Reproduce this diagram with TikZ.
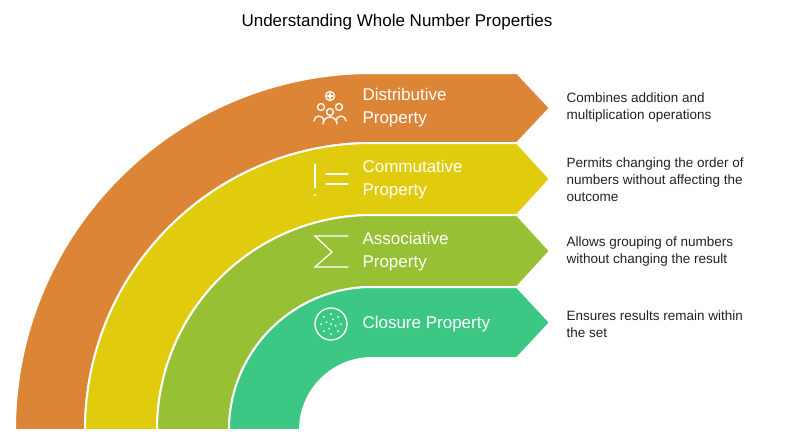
\documentclass[tikz,border=0pt]{standalone}
\usepackage{fontspec}
\setmainfont{Liberation Sans}
\definecolor{distcol}{HTML}{DD8536}
\definecolor{commcol}{HTML}{E0CB0C}
\definecolor{assocol}{HTML}{97C034}
\definecolor{closcol}{HTML}{3CC784}
\definecolor{desccol}{HTML}{222222}
\tikzset{
  band/.style={draw=white, line width=2pt, line join=round},
  label/.style={text=white, anchor=west, align=left, font=\fontsize{17}{23}\selectfont},
  desc/.style={text=desccol, anchor=west, align=left, font=\fontsize{13.5}{17}\selectfont},
  icon/.style={draw=white, line width=1.3pt, line cap=round}
}
% band: #1 colour, #2 outer radius, #3 inner radius
\newcommand{\band}[3]{%
  \fill[#1, band] (372-#2,430) arc[start angle=180, end angle=270, radius=#2]
    -- (517,430-#2) -- (550,430-#2/2-#3/2) -- (517,430-#3) -- (372,430-#3)
    arc[start angle=270, end angle=180, radius=#3] -- cycle;}
\begin{document}
\begin{tikzpicture}[x=1pt, y=-1pt]
  \useasboundingbox (0,0) rectangle (794,445);
  \node[font=\fontsize{17}{20}\selectfont] (title) at (397,22) {Understanding Whole Number Properties};
  % bands, outer to inner
  \band{distcol}{357}{287}
  \band{commcol}{287}{215}
  \band{assocol}{215}{143}
  \band{closcol}{143}{72}
  % labels
  \node[label] (dist) at (359,108) {Distributive\\Property};
  \node[label] (comm) at (359,180) {Commutative\\Property};
  \node[label] (asso) at (359,252) {Associative\\Property};
  \node[label] (clos) at (359,324) {Closure Property};
  % descriptions
  \node[desc] (distd) at (563,108) {Combines addition and\\multiplication operations};
  \node[desc] (commd) at (563,180) {Permits changing the order of\\numbers without affecting the\\outcome};
  \node[desc] (assod) at (563,252) {Allows grouping of numbers\\without changing the result};
  \node[desc] (closd) at (563,324) {Ensures results remain within\\the set};
  % icons
  \begin{scope}[icon]
    \draw (330,96) circle (4.5); \draw (327.5,96) -- (332.5,96); \draw (330,93.5) -- (330,98.5);
    \draw (321,107) circle (3.5); \draw (339,107) circle (3.5); \draw (330,112) circle (3.5);
    \draw (314,121) arc[start angle=180, end angle=360, radius=5];
    \draw (323,124) arc[start angle=180, end angle=360, radius=7];
    \draw (336,121) arc[start angle=180, end angle=360, radius=5];
    \draw (315,164) -- (315,188); \fill[white] (315,195) circle (1.2);
    \draw (326,174) -- (348,174); \draw (326,184) -- (348,184);
    \draw (348,236) -- (315,236) -- (332,252) -- (315,267) -- (348,267);
    \draw (331,324) circle (16);
    \foreach \a in {0,45,...,315} \fill[white] (331,324) ++(\a:10) circle (1);
    \foreach \a in {22,112,202,292} \fill[white] (331,324) ++(\a:5) circle (1);
    \fill[white] (331,324) circle (1);
  \end{scope}
\end{tikzpicture}
\end{document}
